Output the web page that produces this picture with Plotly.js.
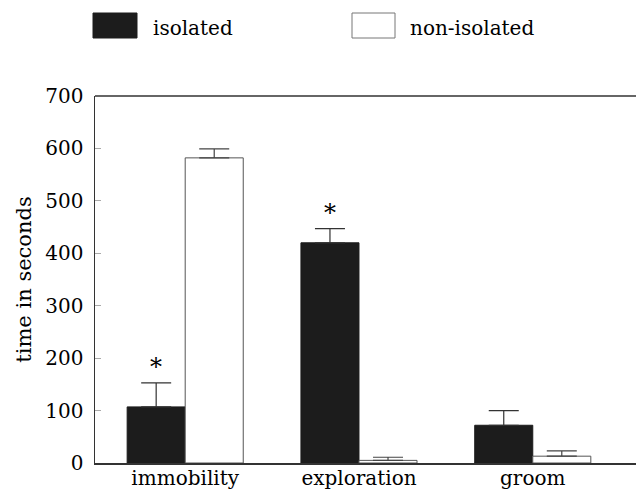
<!DOCTYPE html>
<html>
<head>
<meta charset="utf-8">
<script src="https://cdn.plot.ly/plotly-3.0.1.min.js"></script>
<style>html,body{margin:0;padding:0;background:#fff;}#chart{width:636px;height:493px;}</style>
</head>
<body>
<div id="chart"></div>
<script>
var categories = ['immobility', 'exploration', 'groom'];
var isolated = [107, 420, 72];
var isolatedErr = [46, 27, 28];
var nonIsolated = [582, 5, 13];
var nonIsolatedErr = [17, 6, 10];
var significant = [true, true, false];
var yTicks = [0, 100, 200, 300, 400, 500, 600, 700];
var seriesNames = ['isolated', 'non-isolated'];

var idx = categories.map(function (c, i) { return i; });
var zeros = categories.map(function () { return 0; });
var FONT = 'DejaVu Serif, Liberation Serif, serif';

var traces = [
  {
    type: 'bar', name: seriesNames[0], x: idx, y: isolated,
    marker: {color: '#1c1c1c', line: {color: '#1c1c1c', width: 1}},
    error_y: {type: 'data', symmetric: false, array: isolatedErr, arrayminus: zeros,
      color: '#333', thickness: 1.2, width: 15},
    showlegend: false, hoverinfo: 'y'
  },
  {
    type: 'bar', name: seriesNames[1], x: idx, y: nonIsolated,
    marker: {color: '#ffffff', line: {color: '#555', width: 1}},
    error_y: {type: 'data', symmetric: false, array: nonIsolatedErr, arrayminus: zeros,
      color: '#444', thickness: 1.2, width: 15},
    showlegend: false, hoverinfo: 'y'
  }
];

// plot area in pixels: left 95, right 636, top 96, bottom 463
var L = 95, R = 636, T = 96, B = 463;
function px(x) { return (x - L) / (R - L); }
function py(y) { return (B - y) / (B - T); }

var annotations = [];
significant.forEach(function (s, i) {
  if (s) {
    annotations.push({
      x: i - 0.167, y: isolated[i] + isolatedErr[i], xref: 'x', yref: 'y',
      text: '*', showarrow: false, yanchor: 'middle', yshift: 16,
      font: {family: FONT, size: 24, color: '#000'}
    });
  }
});
annotations.push({
  x: px(151), y: py(28), xref: 'paper', yref: 'paper', xanchor: 'left', yanchor: 'middle',
  text: seriesNames[0], showarrow: false, font: {family: FONT, size: 20, color: '#000'}
});
annotations.push({
  x: px(408), y: py(28), xref: 'paper', yref: 'paper', xanchor: 'left', yanchor: 'middle',
  text: seriesNames[1], showarrow: false, font: {family: FONT, size: 20, color: '#000'}
});

var shapes = [
  {type: 'rect', xref: 'paper', yref: 'paper', x0: px(93), x1: px(137), y0: py(38), y1: py(13),
    fillcolor: '#1c1c1c', line: {color: '#1c1c1c', width: 1}},
  {type: 'rect', xref: 'paper', yref: 'paper', x0: px(352), x1: px(395), y0: py(38), y1: py(13),
    fillcolor: '#ffffff', line: {color: '#777', width: 1}},
  {type: 'line', xref: 'paper', yref: 'paper', x0: 0, x1: 1, y0: 1, y1: 1,
    line: {color: '#333', width: 1.5}}
];

var layout = {
  width: 636, height: 493,
  margin: {l: L, r: 636 - R, t: T, b: 493 - B, pad: 0},
  paper_bgcolor: '#fff', plot_bgcolor: '#fff',
  barmode: 'group', bargap: 0.332, bargroupgap: 0,
  showlegend: false,
  xaxis: {
    range: [-0.519, 2.594], tickmode: 'array', tickvals: idx, ticktext: categories,
    showgrid: false, zeroline: false, showline: true, linecolor: '#333', linewidth: 1.5,
    ticks: '', ticklabelstandoff: -4,
    tickfont: {family: FONT, size: 20, color: '#000'}, fixedrange: true
  },
  yaxis: {
    range: [0, 700], tickmode: 'array', tickvals: yTicks, ticktext: yTicks.map(String),
    showgrid: false, zeroline: false, showline: true, linecolor: '#333', linewidth: 1.5,
    ticks: 'inside', ticklen: 6, tickcolor: '#aaa', tickwidth: 1,
    ticklabelstandoff: 6,
    tickfont: {family: FONT, size: 20, color: '#000'},
    title: {text: 'time in seconds', font: {family: FONT, size: 21, color: '#000'}, standoff: 8},
    fixedrange: true
  },
  annotations: annotations,
  shapes: shapes
};

Plotly.newPlot('chart', traces, layout, {displayModeBar: false, staticPlot: true});
</script>
</body>
</html>
